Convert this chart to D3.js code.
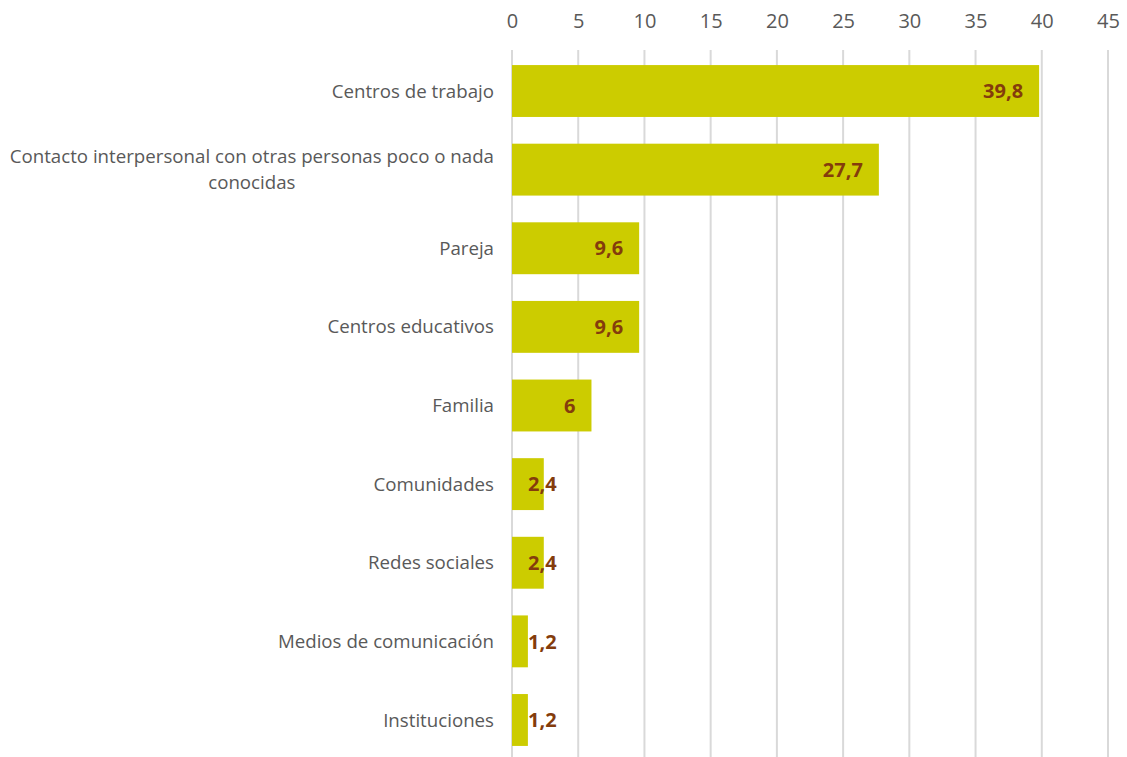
<!DOCTYPE html>
<html><head><meta charset="utf-8">
<script src="https://cdn.jsdelivr.net/npm/d3@7"></script>
<style>body{margin:0;background:#fff;} svg{display:block;}</style>
</head><body>
<svg id="c" width="1127" height="757"></svg>
<script>
const categories = ["Centros de trabajo","Contacto interpersonal con otras personas poco o nada conocidas","Pareja","Centros educativos","Familia","Comunidades","Redes sociales","Medios de comunicación","Instituciones"];
const values = [39.8,27.7,9.6,9.6,6,2.4,2.4,1.2,1.2];
const labels = ["39,8","27,7","9,6","9,6","6","2,4","2,4","1,2","1,2"];
const tickValues = [0,5,10,15,20,25,30,35,40,45];

const svg = d3.select("#c");
const font = "'Open Sans', sans-serif";
const x = d3.scaleLinear().domain([0,45]).range([512,1108]);
const y = d3.scaleBand().domain(categories).range([51.7,759.3]).paddingInner(0.34).paddingOuter(0.17);

// gridlines
svg.append("g").selectAll("line").data(tickValues).join("line")
  .attr("x1",d=>x(d)).attr("x2",d=>x(d)).attr("y1",50).attr("y2",757)
  .attr("stroke","#d9d9d9").attr("stroke-width",2);

// top axis
const ax = svg.append("g").attr("transform","translate(0,28)")
  .call(d3.axisTop(x).tickValues(tickValues).tickSize(0).tickPadding(0));
ax.select(".domain").remove();
ax.selectAll("text").attr("dy",0).attr("font-family",font).attr("font-size",20).attr("fill","#595959");

// bars
svg.append("g").selectAll("rect").data(values).join("rect")
  .attr("x",x(0)).attr("y",(d,i)=>y(categories[i]))
  .attr("width",d=>x(d)-x(0)).attr("height",y.bandwidth())
  .attr("fill","#cccc00");

// value labels
const vl = svg.append("g").selectAll("text").data(values).join("text")
  .attr("font-family",font).attr("font-size",20).attr("font-weight","bold").attr("fill","#843c0c")
  .attr("y",(d,i)=>y(categories[i])+y.bandwidth()/2).attr("dy","0.36em")
  .text((d,i)=>labels[i]);
vl.each(function(d){
  const w = this.getComputedTextLength();
  const right = Math.max(x(d)-16, x(0)+16+w);
  d3.select(this).attr("x",right).attr("text-anchor","end");
});

// category labels
const cl = svg.append("g").selectAll("text").data(categories).join("text")
  .attr("font-family",font).attr("font-size",18.7).attr("fill","#595959")
  .attr("text-anchor","middle");
cl.each(function(d){
  const t = d3.select(this);
  const cy = y(d)+y.bandwidth()/2;
  if (d.length > 40) {
    const lines = ["Contacto interpersonal con otras personas poco o nada","conocidas"];
    t.text(lines[0]);
    const w = this.getComputedTextLength();
    t.text(null);
    const cx = 494 - w/2;
    lines.forEach((l,k)=>{
      t.append("tspan").attr("x",cx).attr("y",cy + (k-0.5)*26).attr("dy","0.35em").text(l);
    });
  } else {
    t.attr("text-anchor","end").attr("x",494).attr("y",cy).attr("dy","0.35em").text(d);
  }
});
</script>
</body></html>
